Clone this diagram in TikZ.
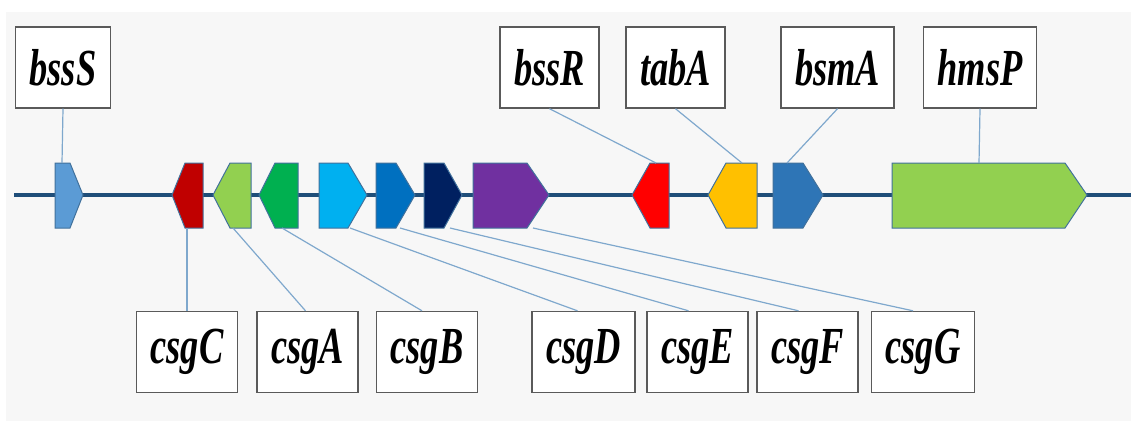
\documentclass[tikz,border=0pt]{standalone}
\usepackage{fontspec}
\usepackage{tikz}
\usetikzlibrary{calc}
\usepackage{xcolor}
\newfontfamily\genefont{Liberation Serif}[FakeStretch=0.70]
\definecolor{PanelGrey}{HTML}{F7F7F7}
\definecolor{BackboneBlue}{HTML}{1F4E79}
\definecolor{OutlineBlue}{HTML}{41719C}
\definecolor{LinkBlue}{HTML}{7FA8CD}
\definecolor{BoxGrey}{HTML}{5A5A5A}
\definecolor{GeneSky}{HTML}{5B9BD5}
\definecolor{GeneDarkRed}{HTML}{C00000}
\definecolor{GeneLime}{HTML}{92D050}
\definecolor{GeneGreen}{HTML}{00B050}
\definecolor{GeneCyan}{HTML}{00B0F0}
\definecolor{GeneBlue}{HTML}{0070C0}
\definecolor{GeneNavy}{HTML}{002060}
\definecolor{GenePurple}{HTML}{7030A0}
\definecolor{GeneRed}{HTML}{FF0000}
\definecolor{GeneGold}{HTML}{FFC000}
\definecolor{GeneSteel}{HTML}{2E75B6}
% start, end of flat part, tip, colour
\newcommand{\generight}[4]{\draw[gene,fill=#4] (#1,163) -- (#2,163) -- (#3,195) -- (#2,228) -- (#1,228) -- cycle;}
% tip, start of flat part, end, colour
\newcommand{\geneleft}[4]{\draw[gene,fill=#4] (#1,195) -- (#2,163) -- (#3,163) -- (#3,228) -- (#2,228) -- cycle;}

\begin{document}
\begin{tikzpicture}[x=1pt,y=-1pt,
    gene/.style={draw=OutlineBlue,line width=1pt,line join=miter},
    genelabel/.style={draw=BoxGrey,fill=white,line width=1.4pt,inner xsep=14pt,inner ysep=0pt,
      minimum height=81pt,font=\genefont\fontsize{52}{56}\selectfont\bfseries\itshape},
    link/.style={draw=LinkBlue,line width=1.2pt}]
    \useasboundingbox (0,0) rectangle (1131,421);
    \fill[PanelGrey] (6,12) rectangle (1131,421);
    \draw[BackboneBlue,line width=3.5pt] (14,195) -- (1131,195);

    % genes
    \generight{55}{70}{83}{GeneSky}
    \geneleft{172}{185}{203}{GeneDarkRed}
    \geneleft{213}{230}{251}{GeneLime}
    \geneleft{259}{275}{298}{GeneGreen}
    \generight{319}{348}{367}{GeneCyan}
    \generight{376}{396}{415}{GeneBlue}
    \generight{424}{444}{462}{GeneNavy}
    \generight{473}{527}{549}{GenePurple}
    \geneleft{632}{650}{669}{GeneRed}
    \geneleft{708}{726}{757}{GeneGold}
    \generight{773}{803}{823}{GeneSteel}
    \generight{892}{1065}{1087}{GeneLime}

    \coordinate (g-bssS) at (62,163);
    \coordinate (g-csgC) at (187,228);
    \coordinate (g-csgA) at (233,228);
    \coordinate (g-csgB) at (282,228);
    \coordinate (g-csgD) at (350,228);
    \coordinate (g-csgE) at (400,228);
    \coordinate (g-csgF) at (450,228);
    \coordinate (g-csgG) at (533,228);
    \coordinate (g-bssR) at (656,163);
    \coordinate (g-tabA) at (742,163);
    \coordinate (g-bsmA) at (787,163);
    \coordinate (g-hmsP) at (979,163);

    % labels
    \node[genelabel] (bssS) at (63,67.5) {bssS};
    \node[genelabel] (bssR) at (549.5,67.5) {bssR};
    \node[genelabel] (tabA) at (675.5,67.5) {tabA};
    \node[genelabel] (bsmA) at (837.5,67.5) {bsmA};
    \node[genelabel] (hmsP) at (980,67.5) {hmsP};
    \node[genelabel] (csgC) at (187,352) {csgC};
    \node[genelabel] (csgA) at (307.5,352) {csgA};
    \node[genelabel] (csgB) at (427,352) {csgB};
    \node[genelabel] (csgD) at (583.5,352) {csgD};
    \node[genelabel] (csgE) at (697.5,352) {csgE};
    \node[genelabel] (csgF) at (807.5,352) {csgF};
    \node[genelabel] (csgG) at (923,352) {csgG};

    \foreach \g in {bssS,bssR,tabA,bsmA,hmsP}
      \draw[link] (g-\g) -- (\g.south);
    \foreach \g/\dx in {csgC/0,csgA/-2,csgB/-5,csgD/-6,csgE/-9,csgF/-9,csgG/-10}
      \draw[link] (g-\g) -- ([xshift=\dx]\g.north);
\end{tikzpicture}
\end{document}
